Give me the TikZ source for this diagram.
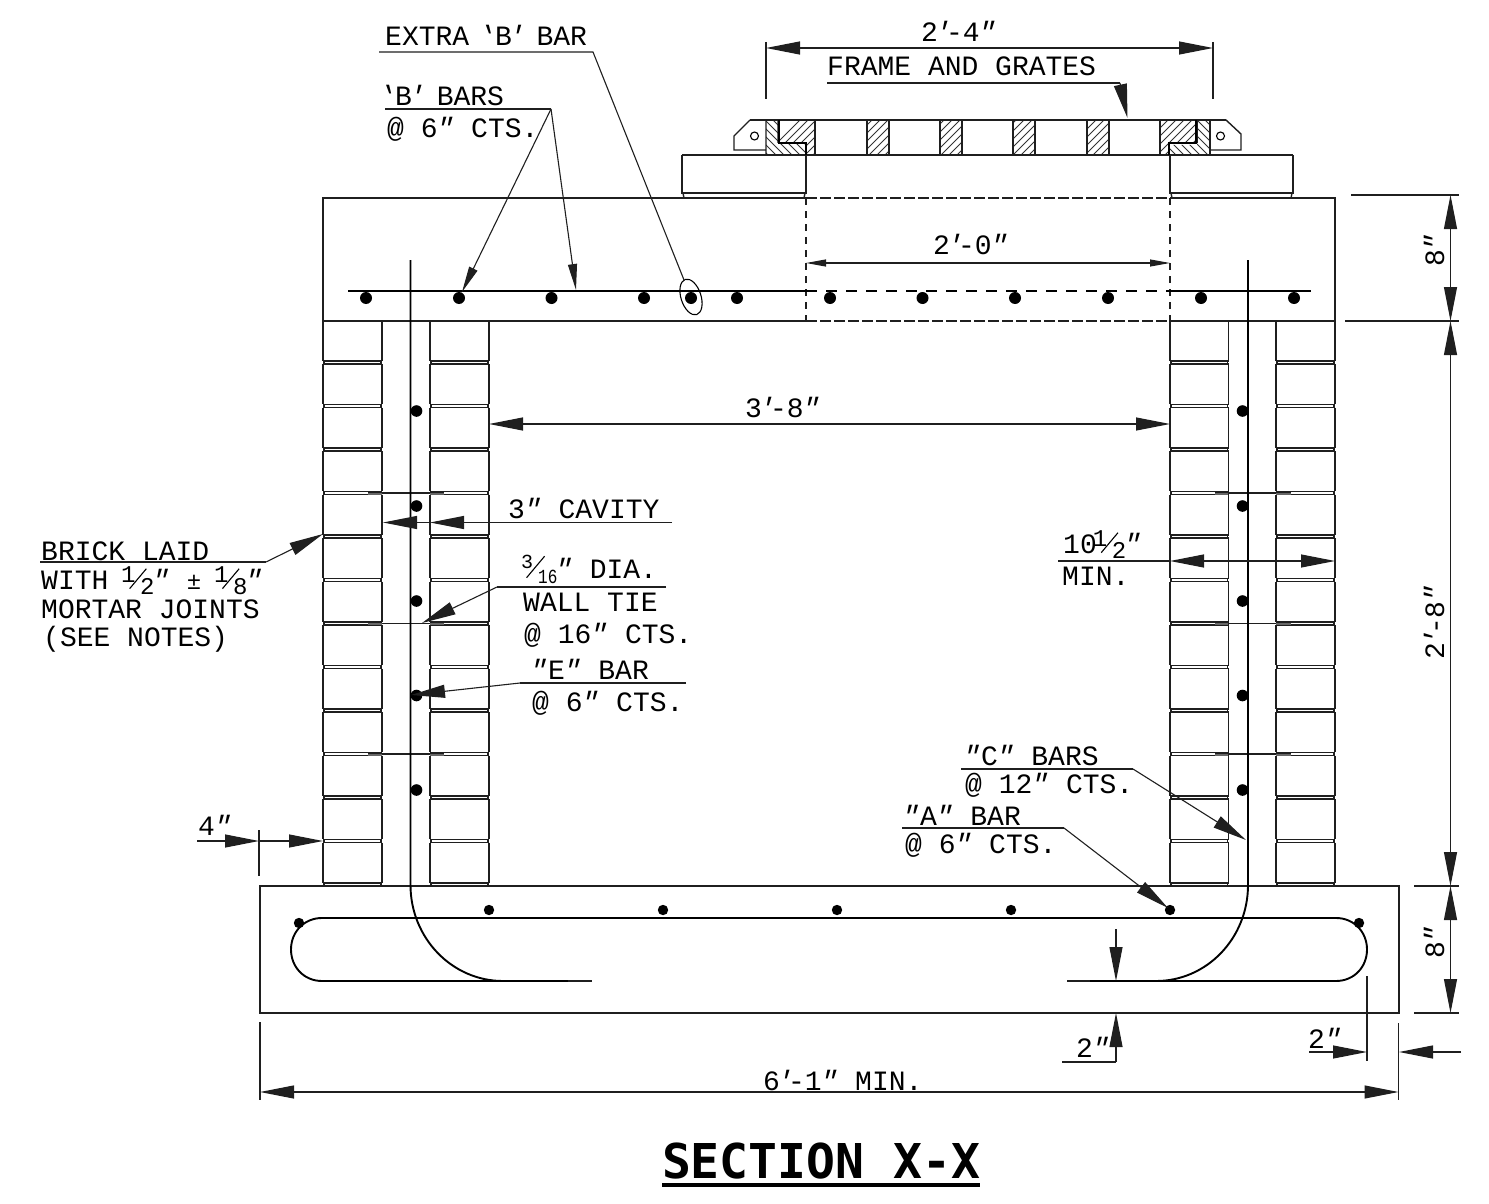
\documentclass[tikz,border=0pt]{standalone}
\usepackage{fontspec}
\usetikzlibrary{arrows.meta}
\setmainfont{Liberation Mono}
\newfontfamily\slantfont[FakeSlant=0.25]{Liberation Mono}
\newfontfamily\backfont[FakeSlant=-0.3]{Liberation Mono}
\newfontfamily\titlefont[BoldFont={DejaVu Sans Mono Bold}]{DejaVu Sans Mono}
\newcommand\pr{\hbox to 8pt{\hss{\slantfont ′}\kern2pt\hss}}
\newcommand\dpr{\kern-3pt{\slantfont ″}\kern3pt}
\newcommand\sq{\hbox to 9pt{\hss\kern6pt{\backfont '}\hss}}
% stacked diagonal fractions
\newcommand\frc[2]{\hbox to 28pt{\rlap{\kern-4pt\raisebox{7pt}{\fontsize{24}{24}\selectfont #1}}\rlap{\kern4pt\rotatebox{50}{\rule{26pt}{1.1pt}}}\hskip 15pt\raisebox{-5pt}{\fontsize{24}{24}\selectfont #2}\hss}}
\newcommand\frcs[2]{\hbox to 33pt{\rlap{\kern-2pt\raisebox{10pt}{\fontsize{20}{20}\selectfont #1}}\rlap{\kern3pt\rotatebox{50}{\rule{28pt}{1.1pt}}}\hskip 15pt\raisebox{-5pt}{\scalebox{.8}[1]{\fontsize{20}{20}\selectfont #2}}\hss}}
\tikzset{
  lbl/.style={inner sep=0pt,anchor=base west,font=\fontsize{28}{28}\selectfont,text=black},
  main/.style={line width=1.4pt,draw=black!88},
  thin/.style={line width=1.1pt,draw=black!88},
  heavy/.style={line width=1.9pt,draw=black},
  big/.style={-{Triangle[length=34pt,width=13pt]},line width=1.1pt,draw=black!88},
  bigb/.style={{Triangle[length=34pt,width=13pt]}-{Triangle[length=34pt,width=13pt]},line width=1.1pt,draw=black!88},
  smallb/.style={{Triangle[length=20pt,width=7pt]}-{Triangle[length=20pt,width=7pt]},line width=1.1pt,draw=black!88},
  leadsm/.style={-{Triangle[length=26pt,width=9pt]},line width=1.1pt,draw=black!88},
  dot/.style={fill=black}
}
\begin{document}
\begin{tikzpicture}[x=1pt,y=-1pt]
\useasboundingbox (0,0) rectangle (1489,1204);
% hatching
\begin{scope}
\clip (780,120)--(815,120)--(815,155)--(807,155)--(807,143)--(780,143)--cycle
 (867,120) rectangle (889,155) (940,120) rectangle (962,155) (1013,120) rectangle (1035,155) (1087,120) rectangle (1109,155)
 (1160,120)--(1195,120)--(1195,143)--(1169,143)--(1169,155)--(1160,155)--cycle;
\foreach \c in {760,768,...,1210} \draw[line width=.9pt,black!80] (\c,160)--(\c+45,115);
\end{scope}
\begin{scope}
\clip (766,120)--(778,120)--(778,143)--(806,143)--(806,155)--(766,155)--cycle
 (1197,120)--(1210,120)--(1210,155)--(1170,155)--(1170,145)--(1197,145)--cycle;
\foreach \c in {720,728,...,1210} \draw[line width=.9pt,black!80] (\c,115)--(\c+45,160);
\end{scope}
% frame
\draw[main] (750,120)--(1226,120) (682,155)--(1293,155);
\draw[main] (750,120)--(734,136)--(734,150)--(766,150) (766,120)--(766,155) (778,120)--(778,143);
\draw[heavy] (779,120)--(779,143)--(806,143)--(806,155);
\draw[main] (815,120)--(815,155);
\foreach \a/\b in {867/889,940/962,1013/1035,1087/1109} \draw[main] (\a,120)--(\a,155) (\b,120)--(\b,155);
\draw[main] (1160,120)--(1160,155) (1197,120)--(1197,143) (1210,120)--(1210,155);
\draw[heavy] (1196,120)--(1196,143)--(1169,143)--(1169,155);
\draw[main] (1226,120)--(1241,134)--(1241,150)--(1210,150);
\draw[line width=1.1pt] (754.5,136) circle[radius=4pt] (1220.5,136) circle[radius=4pt];
% support blocks
\draw[main] (682,155)--(682,193)--(806,193)--(806,155) (1170,155)--(1170,193)--(1293,193)--(1293,155);
\draw[main] (683,193)--(684,198) (805,193)--(804,198) (1171,193)--(1172,198) (1292,193)--(1291,198);
% top slab
\draw[main] (806,198)--(323,198)--(323,321)--(806,321) (1170,198)--(1335,198)--(1335,321)--(1170,321);
\draw[main,dash pattern=on 11pt off 3pt] (806,198)--(1170,198) (806,321)--(1170,321);
\draw[main,dash pattern=on 7pt off 6pt] (806,198)--(806,321) (1170,198)--(1170,321);
\draw[heavy] (348,291)--(806,291) (1170,291)--(1311,291);
\draw[heavy,dash pattern=on 11pt off 9pt] (806,291)--(1170,291);
\foreach \x in {366,459,551.5,644,691,737,830,922.5,1015,1108,1201,1294} \fill[dot] (\x,298) circle[radius=6pt];
\draw[line width=1.1pt,rotate around={18:(691,297)}] (691,297) ellipse[x radius=10pt,y radius=18.5pt];
% brick walls
\foreach \xa/\xb in {323/382,430/489,1170/1228.5,1276/1335}{
  \draw[main] (\xa,321)--(\xa,360.9) (\xb,321)--(\xb,360.9);
  \foreach \k in {0,...,12}{
    \pgfmathsetmacro\jt{360.9+43.5*\k}
    \pgfmathsetmacro\jb{\jt+3.2}
    \pgfmathsetmacro\jn{\jt+43.5}
    \draw[main] (\xa,\jt)--(\xb,\jt) (\xa+1,\jt)--(\xa+1,\jb) (\xb-1,\jt)--(\xb-1,\jb);
    \ifnum\k<12
      \draw[main] (\xa,\jb)--(\xb,\jb) (\xa,\jb)--(\xa,\jn) (\xb,\jb)--(\xb,\jn);
    \fi
  }
}
% wall ties
\foreach \y in {493,623.5,754}{
  \draw[thin] (368,\y)--(444,\y) (1215,\y)--(1291,\y);
  \draw[heavy,black!60] (368,\y+.6)--(382,\y+.6) (430,\y+.6)--(444,\y+.6) (1215,\y+.6)--(1228,\y+.6) (1276,\y+.6)--(1291,\y+.6);
}
% foundation
\draw[main] (260,886) rectangle (1399,1013);
% C bars
\draw[heavy] (410.5,260)--(410.5,885) .. controls (410.5,938) and (452,981) .. (503,981)--(568,981);
\draw[thin] (568,981)--(592,981);
\draw[heavy] (1248,260)--(1248,885) .. controls (1248,938) and (1207,981) .. (1156,981)--(1090,981);
\draw[thin] (1090,981)--(1067,981);
% A bars
\draw[heavy] (503,981)--(322,981) .. controls (304,981) and (291,967) .. (291,949.5) .. controls (291,932) and (304,918) .. (322,918)--(1336,918) .. controls (1354,918) and (1367,932) .. (1367,949.5) .. controls (1367,967) and (1354,981) .. (1336,981)--(1156,981);
\foreach \x/\y in {489/910,663/910,837/910,1011/910,1170/910,299/923,1359/923} \fill[dot] (\x,\y) circle[radius=5.2pt];
\foreach \x in {416.5,1242.5} \foreach \y in {411,506,601,695.5,790} \fill[dot] (\x,\y) circle[radius=5.8pt];
% dimensions: frame
\draw[main] (766,42)--(766,99) (1213,42)--(1213,99);
\draw[bigb] (766,48)--(1213,48);
\node[lbl] (d24) at (921,42) {2\pr-4\dpr};
\draw[smallb] (806,263)--(1170,263);
\node[lbl] (d20) at (933,254) {2\pr-0\dpr};
\draw[bigb] (489,424)--(1170,424);
\node[lbl] (d38) at (745,417) {3\pr-8\dpr};
% right dims
\draw[main] (1351,195)--(1459,195) (1345,321)--(1459,321) (1414,886)--(1459,886) (1414,1013)--(1459,1013);
\draw[bigb] (1450.5,195)--(1450.5,321);
\draw[bigb] (1450.5,321)--(1450.5,886);
\draw[bigb] (1450.5,886)--(1450.5,1013);
\node[lbl,anchor=base,rotate=90] (d8a) at (1444,250) {8\dpr};
\node[lbl,anchor=base,rotate=90] (d28) at (1444,622) {2\pr-8\dpr};
\node[lbl,anchor=base,rotate=90] (d8b) at (1444,942) {8\dpr};
% left 4 in
\draw[main] (259,830)--(259,876);
\draw[big] (197,841)--(259,841);
\draw[big] (259,841)--(323,841);
\node[lbl] (d4) at (198,835) {4\dpr};
% overall
\draw[main] (260,1022)--(260,1100) (1398.5,1023)--(1398.5,1100);
\draw[bigb] (260,1092)--(1398.5,1092);
\node[lbl] (d61) at (763,1090) {6\pr-1\dpr{} MIN.};
% right 2 in
\draw[main] (1367,976)--(1367,1061);
\draw[big] (1309,1052)--(1367,1052);
\draw[big] (1461,1052)--(1399,1052);
\node[lbl] (d2r) at (1308,1048) {2\dpr};
% lower 2 in
\draw[big] (1116,929)--(1116,981);
\draw[thin] (1062,1062)--(1116,1062);
\draw[big] (1116,1062)--(1116,1013);
\node[lbl] (d2l) at (1076,1057) {2\dpr};
% labels and leaders
\node[lbl] (fg) at (827,76) {FRAME AND GRATES};
\coordinate (fgA) at (827,83); \coordinate (fgB) at (1120,83); \coordinate (fgT) at (1127.5,118);
\draw[thin] (fgA)--(fgB); \draw[big] (fgB)--(fgT);

\node[lbl] (xb) at (385,46) {EXTRA \sq B\pr{} BAR};
\coordinate (xbA) at (379,52); \coordinate (xbB) at (593,52); \coordinate (xbT) at (684,280);
\draw[thin] (xbA)--(xbB)--(xbT);

\node[lbl] (bb) at (386,106) {\sq B\pr{} BARS};
\node[lbl] (bb2) at (387,138) {@ 6\dpr{} CTS.};
\coordinate (bbA) at (385,109); \coordinate (bbB) at (551,109); \coordinate (bbT) at (462,292); \coordinate (bbU) at (576,290);
\draw[thin] (bbA)--(bbB);
\draw[leadsm] (bbB)--(bbT); \draw[leadsm] (bbB)--(bbU);

\node[lbl] (cv) at (508,518) {3\dpr{} CAVITY};
\coordinate (cvA) at (672,522.5); \coordinate (cvM) at (430,522.5); \coordinate (cvT) at (383,522.5);
\draw[big] (cvA)--(cvM); \draw[big] (cvM)--(cvT);

\node[lbl] (br1) at (41,560) {BRICK LAID};
\node[lbl] (br2) at (41,589) {WITH \frc{1}{2}\dpr{} {\fontsize{24}{24}\selectfont ±} \frc{1}{8}\dpr};
\node[lbl] (br3) at (41,618) {MORTAR JOINTS};
\node[lbl] (br4) at (43,646) {(SEE NOTES)};
\coordinate (brA) at (40,562); \coordinate (brB) at (266,562); \coordinate (brT) at (323,534);
\draw[thin] (brA)--(brB); \draw[big] (brB)--(brT);

\node[lbl] (wt1) at (523,578) {\frcs{3}{16}\dpr{} DIA.};
\node[lbl] (wt2) at (523,611) {WALL TIE};
\node[lbl] (wt3) at (524,643) {@ 16\dpr{} CTS.};
\coordinate (wtA) at (666,587); \coordinate (wtB) at (497,587); \coordinate (wtT) at (422,623);
\draw[thin] (wtA)--(wtB); \draw[big] (wtB)--(wtT);

\node[lbl] (eb1) at (531,679) {\dpr E\dpr{} BAR};
\node[lbl] (eb2) at (532,711) {@ 6\dpr{} CTS.};
\coordinate (ebA) at (686,683); \coordinate (ebB) at (520,683); \coordinate (ebT) at (411,695);
\draw[thin] (ebA)--(ebB); \draw[big] (ebB)--(ebT);

\node[lbl] (ts1) at (1063,553) {10\frc{1}{2}\dpr};
\node[lbl] (ts2) at (1062,585) {MIN.};
\draw[bigb] (1170,561)--(1335,561);
\coordinate (tsA) at (1058,561); \coordinate (tsB) at (1170,561);
\draw[thin] (tsA)--(tsB);

\node[lbl] (cb1) at (964,765) {\dpr C\dpr{} BARS};
\node[lbl] (cb2) at (965,793) {@ 12\dpr{} CTS.};
\coordinate (cbA) at (961,769); \coordinate (cbB) at (1133,769); \coordinate (cbT) at (1246,840);
\draw[thin] (cbA)--(cbB); \draw[big] (cbB)--(cbT);

\node[lbl] (ab1) at (903,825) {\dpr A\dpr{} BAR};
\node[lbl] (ab2) at (905,853) {@ 6\dpr{} CTS.};
\coordinate (abA) at (902,828); \coordinate (abB) at (1064,828); \coordinate (abT) at (1168,908);
\draw[thin] (abA)--(abB); \draw[big] (abB)--(abT);

% title
\node[inner sep=0pt,anchor=base,font=\titlefont\bfseries\fontsize{48}{48}\selectfont] (ttl) at (821,1178) {SECTION X-X};
\coordinate (ttA) at (662,1184.5); \coordinate (ttB) at (980,1184.5);
\draw[line width=4pt] (ttA)--(ttB);
\end{tikzpicture}
\end{document}
